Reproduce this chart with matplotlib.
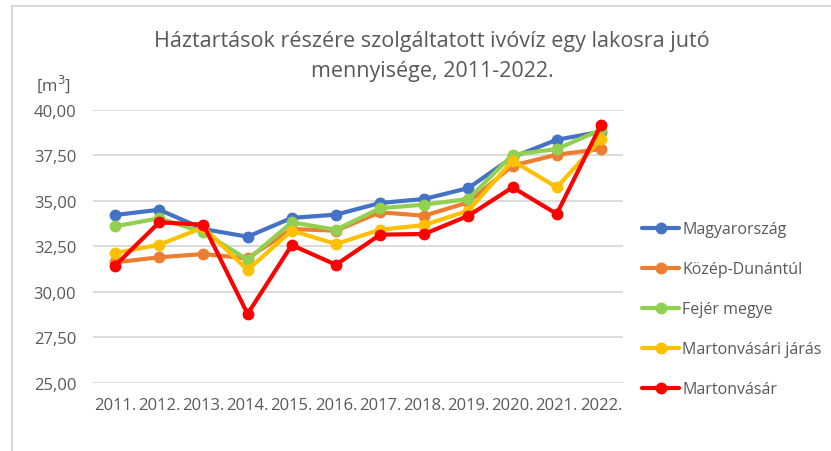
import matplotlib
matplotlib.use("Agg")
import matplotlib.pyplot as plt
from matplotlib.lines import Line2D
from matplotlib.ticker import FuncFormatter

plt.rcParams['font.family'] = ['Open Sans', 'DejaVu Sans']

# adatok
years = ['2011.', '2012.', '2013.', '2014.', '2015.', '2016.',
         '2017.', '2018.', '2019.', '2020.', '2021.', '2022.']
magyarorszag = [34.22, 34.51, 33.45, 33.03, 34.06, 34.24, 34.88, 35.10, 35.70, 37.39, 38.35, 38.79]
kozep_dunantul = [31.62, 31.90, 32.08, 31.84, 33.45, 33.36, 34.37, 34.18, 34.92, 36.93, 37.53, 37.84]
fejer_megye = [33.60, 34.04, 33.27, 31.77, 33.82, 33.41, 34.59, 34.79, 35.10, 37.53, 37.84, 38.90]
martonvasari_jaras = [32.14, 32.59, 33.54, 31.20, 33.36, 32.63, 33.41, 33.67, 34.46, 37.20, 35.74, 38.39]
martonvasar = [31.44, 33.82, 33.69, 28.79, 32.57, 31.49, 33.14, 33.18, 34.18, 35.74, 34.28, 39.16]

series = [
    ('Magyarország', magyarorszag, '#4472C4'),
    ('Közép-Dunántúl', kozep_dunantul, '#ED7D31'),
    ('Fejér megye', fejer_megye, '#92D050'),
    ('Martonvásári járás', martonvasari_jaras, '#FFC000'),
    ('Martonvásár', martonvasar, '#FF0000'),
]
text_color = '#595959'
grid_color = '#D9D9D9'

fig = plt.figure(figsize=(8.31, 4.52), dpi=100)

# keret
fig.add_artist(Line2D([12 / 831, 12 / 831], [0, 1 - 7 / 452], transform=fig.transFigure,
                      color=grid_color, lw=1.5))
fig.add_artist(Line2D([12 / 831, 1], [1 - 7 / 452, 1 - 7 / 452], transform=fig.transFigure,
                      color=grid_color, lw=1.5))

ax = fig.add_axes([93 / 831, 68 / 452, 530 / 831, 273.3 / 452])
x = list(range(len(years)))
for name, vals, color in series:
    ax.plot(x, vals, color=color, lw=3, marker='o', markersize=7.5, label=name,
            solid_capstyle='round', zorder=3)

ax.set_ylim(25, 40)
ax.set_xlim(-0.5, len(years) - 0.5)
ax.set_yticks([25, 27.5, 30, 32.5, 35, 37.5, 40])
ax.yaxis.set_major_formatter(FuncFormatter(lambda v, p: f'{v:.2f}'.replace('.', ',')))
ax.set_xticks(x)
ax.set_xticklabels(years)
ax.tick_params(axis='both', length=0, colors=text_color, labelsize=12)
ax.tick_params(axis='y', pad=12)
ax.tick_params(axis='x', pad=10)
ax.grid(axis='y', color=grid_color, lw=1.3)
ax.set_axisbelow(True)
for s in ax.spines.values():
    s.set_visible(False)

fig.text(432 / 831, 1 - 42 / 452, 'Háztartások részére szolgáltatott ivóvíz egy lakosra jutó',
         ha='center', va='center', fontsize=15.5, color=text_color)
fig.text(432 / 831, 1 - 72 / 452, 'mennyisége, 2011-2022.',
         ha='center', va='center', fontsize=15.5, color=text_color)
fig.text(54 / 831, 1 - 84 / 452, '[m$^3$]', ha='center', va='center', fontsize=12,
         color=text_color)

leg = ax.legend(loc='upper left', bbox_to_anchor=(628 / 831, 1 - 208 / 452),
                bbox_transform=fig.transFigure, frameon=False, fontsize=11.5,
                labelspacing=1.5, handlelength=2.3, handletextpad=0.2)
for t in leg.get_texts():
    t.set_color(text_color)

fig.savefig('out.png', dpi=100)
